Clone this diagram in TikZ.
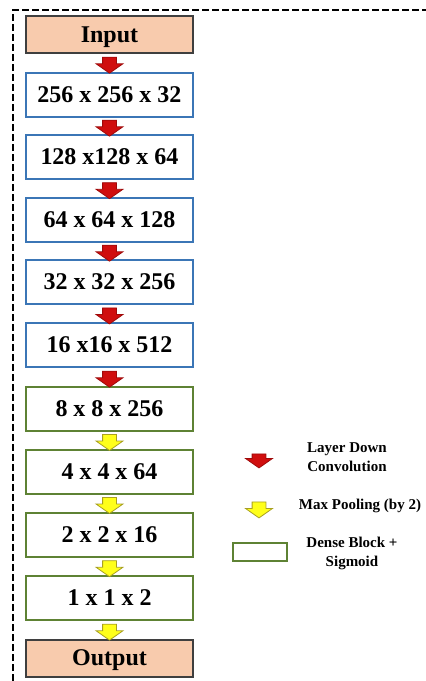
\documentclass[tikz,border=0pt]{standalone}
\usepackage{fontspec}
\setmainfont{Liberation Serif}
\usetikzlibrary{shapes.arrows,calc}

\definecolor{peach}{HTML}{F8CBAD}
\definecolor{iogray}{HTML}{3F3F3F}
\definecolor{convblue}{HTML}{3B76B6}
\definecolor{densegreen}{HTML}{5E8234}
\definecolor{downred}{HTML}{D00E0E}
\definecolor{downborder}{HTML}{9E0A0A}
\definecolor{poolyellow}{HTML}{FFFF1A}
\definecolor{poolborder}{HTML}{A8A020}

\begin{document}
\begin{tikzpicture}[x=1pt,y=-1pt]
\tikzstyle{box_style} = [line width=2pt, minimum width=167pt, minimum height=44pt, inner sep=0pt, text depth=0pt, font=\fontsize{24}{28}\selectfont\bfseries]
\tikzstyle{io_style} = [box_style, draw=iogray, fill=peach, minimum height=37pt]
\tikzstyle{conv_style} = [box_style, draw=convblue, fill=white]
\tikzstyle{dense_style} = [box_style, draw=densegreen, fill=white]
\tikzstyle{arrow_style} = [single arrow, rotate=-90, inner xsep=0pt, inner ysep=6.5pt, single arrow head extend=6.5pt, single arrow tip angle=110, minimum height=16pt, line width=0.8pt]
\tikzstyle{down_style} = [arrow_style, draw=downborder, fill=downred]
\tikzstyle{pool_style} = [arrow_style, draw=poolborder, fill=poolyellow]
\tikzstyle{legend_style} = [align=center, font=\fontsize{15}{19}\selectfont\bfseries]
\tikzstyle{frame_style} = [black, line width=2.6pt, dash pattern=on 7pt off 3pt]
    \useasboundingbox (0,0) rectangle (426,681);

    % outer frame
    \draw[frame_style] (13,681) -- (13,10) -- (426,10);

    \node[io_style] (in) at (109.5,34.5) {Input};
    \node[conv_style] (b1) at (109.5,94.5) {256 x 256 x 32};
    \node[conv_style] (b2) at (109.5,157) {128 x128 x 64};
    \node[conv_style] (b3) at (109.5,219.5) {64 x 64 x 128};
    \node[conv_style] (b4) at (109.5,282) {32 x 32 x 256};
    \node[conv_style] (b5) at (109.5,345) {16 x16 x 512};
    \node[dense_style] (b6) at (109.5,408.5) {8 x 8 x 256};
    \node[dense_style] (b7) at (109.5,471.5) {4 x 4 x 64};
    \node[dense_style] (b8) at (109.5,534.5) {2 x 2 x 16};
    \node[dense_style] (b9) at (109.5,598) {1 x 1 x 2};
    \node[io_style] (out) at (109.5,658) {Output};

    \node[down_style] (a1) at ($(in.south)!0.5!(b1.north)$) {};
    \node[down_style] (a2) at ($(b1.south)!0.5!(b2.north)$) {};
    \node[down_style] (a3) at ($(b2.south)!0.5!(b3.north)$) {};
    \node[down_style] (a4) at ($(b3.south)!0.5!(b4.north)$) {};
    \node[down_style] (a5) at ($(b4.south)!0.5!(b5.north)$) {};
    \node[down_style] (a6) at ($(b5.south)!0.5!(b6.north)$) {};
    \node[pool_style] (a7) at ($(b6.south)!0.5!(b7.north)$) {};
    \node[pool_style] (a8) at ($(b7.south)!0.5!(b8.north)$) {};
    \node[pool_style] (a9) at ($(b8.south)!0.5!(b9.north)$) {};
    \node[pool_style] (a10) at ($(b9.south)!0.5!(out.north)$) {};

    % legend
    \node[down_style, minimum height=14pt] (l1) at (259,458.5) {};
    \node[legend_style] (t1) at (347,457) {Layer Down\\Convolution};
    \node[pool_style] (l2) at (259,507.5) {};
    \node[legend_style] (t2) at (360,506) {Max Pooling (by 2)};
    \node[draw=densegreen, line width=2pt, minimum width=54pt, minimum height=18pt, inner sep=0pt] (l3) at (260,552) {};
    \node[legend_style] (t3) at (352,553) {Dense Block +\\Sigmoid};
\end{tikzpicture}
\end{document}
